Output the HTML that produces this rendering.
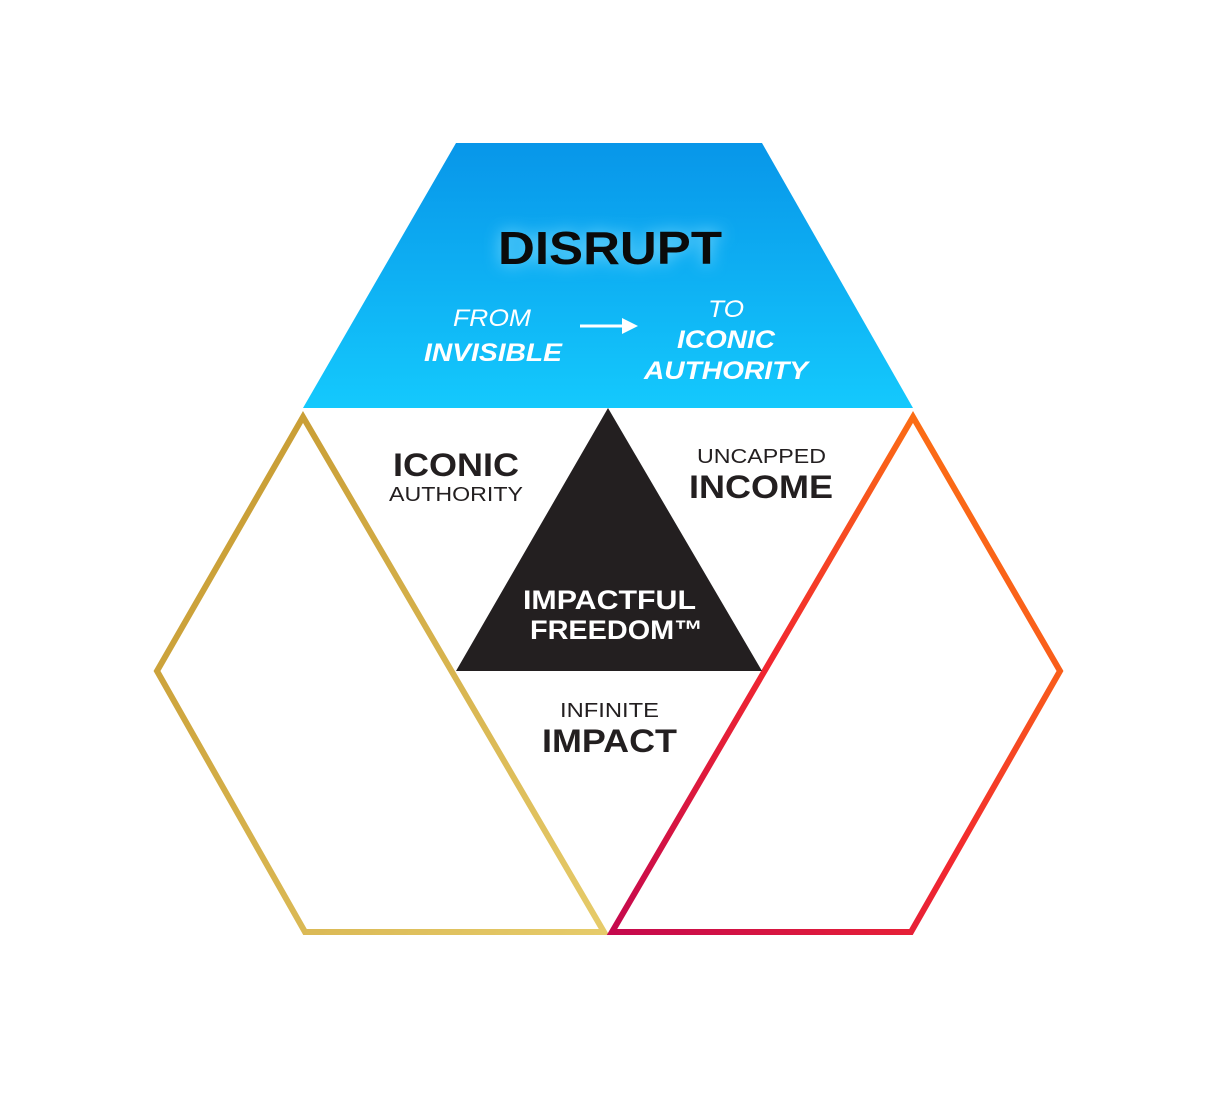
<!DOCTYPE html>
<html><head><meta charset="utf-8"><style>
html,body{margin:0;padding:0;background:#fff;}
svg{display:block;}
text{font-family:"Liberation Sans","DejaVu Sans",sans-serif;}
</style></head><body>
<svg width="1211" height="1094" viewBox="0 0 1211 1094" xmlns="http://www.w3.org/2000/svg">
<defs>
<linearGradient id="blue" x1="0" y1="0" x2="0" y2="1">
<stop offset="0" stop-color="#0896e9"/><stop offset="1" stop-color="#14c9fd"/>
</linearGradient>
<linearGradient id="gold" x1="0" y1="0" x2="1" y2="1">
<stop offset="0" stop-color="#c4962c"/><stop offset="1" stop-color="#e6cb6a"/>
</linearGradient>
<linearGradient id="red" x1="0" y1="1" x2="1" y2="0">
<stop offset="0" stop-color="#c5094d"/><stop offset="0.45" stop-color="#f2282f"/><stop offset="1" stop-color="#ff8a0a"/>
</linearGradient>
<filter id="glow" x="-30%" y="-60%" width="160%" height="220%">
<feGaussianBlur stdDeviation="8"/>
</filter>
</defs>
<polygon points="456,143 762,143 913,408 303,408" fill="url(#blue)"/>
<polygon points="303,417 157,671 305,932 604,932" fill="none" stroke="url(#gold)" stroke-width="6" stroke-linejoin="miter"/>
<polygon points="913,417 1060,671 911,932 612,932" fill="none" stroke="url(#red)" stroke-width="6" stroke-linejoin="miter"/>
<polygon points="608,408 762,671 456,671" fill="#231f20"/>
<text x="498" y="264" textLength="224" lengthAdjust="spacingAndGlyphs" font-size="46" font-weight="bold" fill="#7fdcff" filter="url(#glow)">DISRUPT</text>
<text x="498" y="264" textLength="224" lengthAdjust="spacingAndGlyphs" font-size="46" font-weight="bold" fill="#0a0a0a">DISRUPT</text>
<g fill="#fff" font-style="italic">
<text x="453" y="326" font-size="24" textLength="78" lengthAdjust="spacingAndGlyphs">FROM</text>
<text x="424" y="361" font-size="25" font-weight="bold" textLength="138" lengthAdjust="spacingAndGlyphs">INVISIBLE</text>
<text x="708" y="317" font-size="24" textLength="36" lengthAdjust="spacingAndGlyphs">TO</text>
<text x="677" y="348" font-size="25" font-weight="bold" textLength="98" lengthAdjust="spacingAndGlyphs">ICONIC</text>
<text x="644" y="379" font-size="25" font-weight="bold" textLength="164" lengthAdjust="spacingAndGlyphs">AUTHORITY</text>
</g>
<line x1="580" y1="326" x2="628" y2="326" stroke="#fff" stroke-width="3"/>
<polygon points="638,326 622,318 622,334" fill="#fff"/>
<g fill="#231f20">
<text x="393" y="476" font-size="32" font-weight="bold" textLength="126" lengthAdjust="spacingAndGlyphs">ICONIC</text>
<text x="389" y="501" font-size="20" textLength="134" lengthAdjust="spacingAndGlyphs">AUTHORITY</text>
<text x="697" y="463" font-size="20" textLength="129" lengthAdjust="spacingAndGlyphs">UNCAPPED</text>
<text x="689" y="498" font-size="32" font-weight="bold" textLength="144" lengthAdjust="spacingAndGlyphs">INCOME</text>
<text x="560" y="717" font-size="20" textLength="99" lengthAdjust="spacingAndGlyphs">INFINITE</text>
<text x="542" y="752" font-size="32" font-weight="bold" textLength="135" lengthAdjust="spacingAndGlyphs">IMPACT</text>
</g>
<g fill="#fff" font-weight="bold" font-size="27">
<text x="523" y="609" textLength="173" lengthAdjust="spacingAndGlyphs">IMPACTFUL</text>
<text x="530" y="639" textLength="173" lengthAdjust="spacingAndGlyphs">FREEDOM™</text>
</g>
</svg>
</body></html>
